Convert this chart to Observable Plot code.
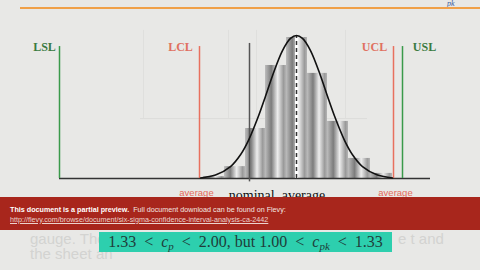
<!DOCTYPE html>
<html><head><meta charset="utf-8">
<script src="https://cdn.jsdelivr.net/npm/d3@7"></script>
<script src="https://cdn.jsdelivr.net/npm/@observablehq/plot@0.6"></script>
<style>
html,body{margin:0;padding:0;background:#e8e8e6;}
#wrap{position:relative;width:480px;height:270px;overflow:hidden;background:#e8e8e6;}
#chart{position:absolute;left:0;top:0;}
#chart svg{display:block;}
.abs{position:absolute;white-space:pre;}
#banner{left:0;top:197px;width:480px;height:33px;background:#a8261c;font-family:"Liberation Sans",Arial,sans-serif;font-size:7.2px;color:#fff;}
#formula{left:99px;top:232px;width:293px;height:20px;background:#2dcfae;font-family:"Liberation Serif","Times New Roman",serif;font-size:16px;line-height:20px;color:#1f3d3a;text-align:center;}
#formula sub{font-size:11px;vertical-align:-3px;line-height:0;}
.ghost{font-family:"Liberation Sans",Arial,sans-serif;font-size:15px;color:#d3d3d1;}
</style></head><body>
<div id="wrap">
  <div class="abs" style="left:447px;top:0px;font-family:'Liberation Serif',serif;font-style:italic;font-size:8px;line-height:7px;color:#3a5a9a;">pk</div>
  <div class="abs" style="left:20px;top:7px;width:460px;height:2px;background:#f0a048;"></div>
  <div class="abs ghost" style="left:30px;top:231px;line-height:15px;">gauge. The
the sheet an</div>
  <div class="abs ghost" style="left:398px;top:231px;line-height:15px;">e t and</div>
  <div id="chart"></div>
  <div id="banner" class="abs">
    <div class="abs" style="left:10px;top:8px;"><b>This document is a partial preview.</b>  <span style="color:#f3e6e2">Full document download can be found on Flevy:</span></div>
    <div class="abs" style="left:10px;top:17.5px;color:#ecd2cc;text-decoration:underline;">http://flevy.com/browse/document/six-sigma-confidence-interval-analysis-ca-2442</div>
  </div>
  <div id="formula" class="abs">1.33  &lt;  <i>c<sub>p</sub></i>  &lt;  2.00, but 1.00  &lt;  <i>c<sub>pk</sub></i>  &lt;  1.33</div>
</div>
<script>
// Histogram bins (measurement units) and counts
const binStart = [20.3, 22.4, 24.5, 26.5, 28.6, 30.7, 32.7, 34.8, 37.0];
const binEnd   = [22.4, 24.5, 26.5, 28.6, 30.7, 32.7, 34.8, 37.0, 39.2];
const binCount = [0.7, 4.2, 17.7, 40.0, 49.9, 37.2, 20.2, 7.1, 1.8];

// Fitted curve
const curveX = [20.0, 21.5, 23.0, 24.0, 24.8, 25.8, 26.5, 27.2, 28.2, 29.0, 29.6, 30.2, 31.0, 32.0, 32.7, 33.4, 34.4, 35.2, 36.2, 37.7, 39.2];
const curveY = [0.2, 1.2, 4.2, 8.4, 13.5, 22.1, 29.1, 36.4, 45.3, 49.6, 50.6, 49.6, 45.3, 36.4, 29.1, 22.1, 13.5, 8.4, 4.2, 1.2, 0.2];

// Limits
const specNames = ["LSL", "USL"];
const specValues = [5.9, 40.2];
const controlNames = ["LCL", "UCL"];
const controlValues = [19.9, 39.3];
const limitTop = 46.7;
const nominal = 24.9;
const nominalTop = 47.8;
const processAverage = 29.6;
const axisStart = 5.9, axisEnd = 43.0;

// Ghost frame from the previous slide
const ghostX = [14.3, 22.8, 25.6, 34.5];
const ghostTop = 52.4, ghostBottom = 21.2;

const bins = binStart.map((s, i) => ({x1: s, x2: binEnd[i], count: binCount[i]}));
const curve = curveX.map((x, i) => ({x, y: curveY[i]}));
const spec = specNames.map((n, i) => ({name: n, x: specValues[i]}));
const control = controlNames.map((n, i) => ({name: n, x: controlValues[i]}));
const specLabelX = {LSL: 4.4, USL: 42.4};
const controlLabelX = {LCL: 18.0, UCL: 37.4};
const avgLabelX = {LCL: 19.6, UCL: 39.5};

function gradientDefs() {
  const ns = "http://www.w3.org/2000/svg";
  const defs = document.createElementNS(ns, "defs");
  const g = document.createElementNS(ns, "linearGradient");
  g.setAttribute("id", "barShade");
  g.setAttribute("x1", "0"); g.setAttribute("x2", "1");
  g.setAttribute("y1", "0"); g.setAttribute("y2", "0");
  [[0, "#bdbdbd"], [0.3, "#7c7c7c"], [0.6, "#ededed"], [0.88, "#9a9a9a"], [1, "#b4b4b4"]].forEach(([o, c]) => {
    const s = document.createElementNS(ns, "stop");
    s.setAttribute("offset", o); s.setAttribute("stop-color", c);
    g.appendChild(s);
  });
  defs.appendChild(g);
  return defs;
}

const plot = Plot.plot({
  width: 480, height: 270,
  marginTop: 0, marginBottom: 92, marginLeft: 0, marginRight: 0,
  x: {domain: [0, 48], axis: null},
  y: {domain: [0, 63], axis: null},
  style: {background: "transparent", overflow: "visible"},
  marks: [
    gradientDefs,
    Plot.ruleX(ghostX, {x: d => d, y1: ghostBottom, y2: ghostTop, stroke: "#dfdfdd", strokeWidth: 1}),
    Plot.ruleY([ghostBottom], {x1: 14.0, x2: 36.7, stroke: "#dcdcda", strokeWidth: 1}),
    Plot.rectY(bins, {x1: "x1", x2: "x2", y: "count", fill: "url(#barShade)", inset: 0}),
    Plot.ruleY([0], {x1: axisStart, x2: axisEnd, stroke: "#333", strokeWidth: 1.5}),
    Plot.ruleX(spec, {x: "x", y1: 0, y2: limitTop, stroke: "#3a9a4a", strokeWidth: 1.5}),
    Plot.ruleX(control, {x: "x", y1: 0, y2: limitTop, stroke: "#e8705e", strokeWidth: 1.5}),
    Plot.ruleX([nominal], {x: d => d, y1: -1.2, y2: nominalTop, stroke: "#555", strokeWidth: 1.5}),
    Plot.ruleX([processAverage], {x: d => d, y1: 0, y2: 50.6, stroke: "#fff", strokeWidth: 3}),
    Plot.ruleX([processAverage], {x: d => d, y1: 0, y2: 50.6, stroke: "#333", strokeWidth: 1.5, strokeDasharray: "4,3"}),
    Plot.line(curve, {x: "x", y: "y", curve: "catmull-rom", stroke: "#111", strokeWidth: 1.6}),
    Plot.text(spec, {x: d => specLabelX[d.name], y: 46.4, text: "name", fill: "#3a7a40", fontWeight: "bold", fontSize: 12, fontFamily: "Liberation Serif, serif"}),
    Plot.text(control, {x: d => controlLabelX[d.name], y: 46.4, text: "name", fill: "#e07060", fontWeight: "bold", fontSize: 12, fontFamily: "Liberation Serif, serif"}),
    Plot.text(control, {x: d => avgLabelX[d.name], y: -5.0, text: () => "average", fill: "#e46a5a", fontSize: 9.5, fontFamily: "Liberation Sans, sans-serif"}),
    Plot.text(["nominal  average"], {x: 27.65, y: -6.0, text: d => d, fill: "#111", fontSize: 14, fontFamily: "Liberation Serif, serif"})
  ]
});
document.getElementById("chart").appendChild(plot);
</script>
</body></html>
